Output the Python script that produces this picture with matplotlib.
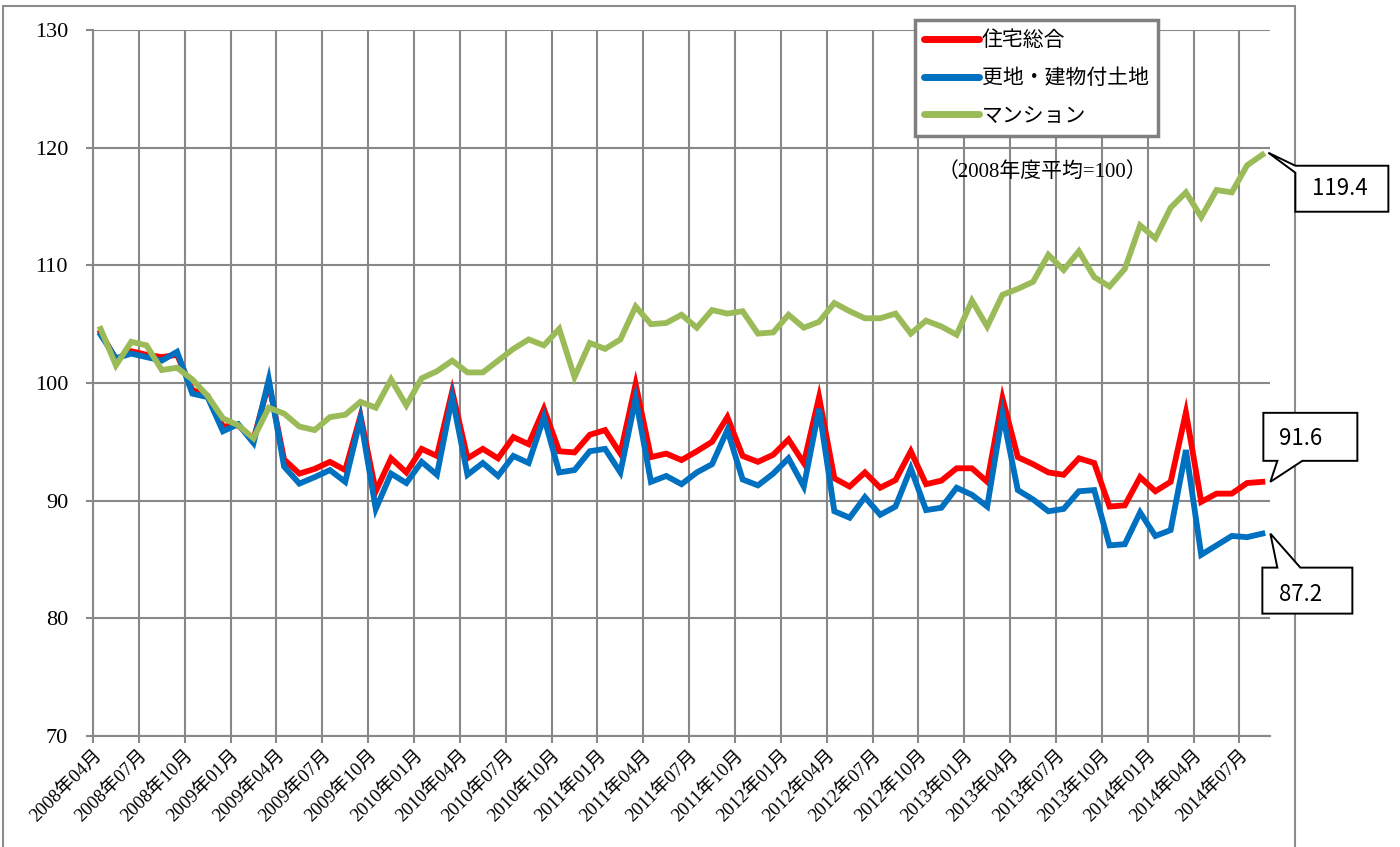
import numpy as np
import matplotlib
matplotlib.use("Agg")
import matplotlib.pyplot as plt
from matplotlib.patches import Polygon, Rectangle
from matplotlib.transforms import IdentityTransform

# ---------------- data ----------------
series_names = ["住宅総合", "更地・建物付土地", "マンション"]

housing_total = [104.3, 102.0, 102.7, 102.4, 102.2, 102.4, 99.4, 98.9, 96.3, 96.4,
                 95.2, 100.0, 93.5, 92.3, 92.7, 93.3, 92.6, 97.2, 90.8, 93.6,
                 92.4, 94.4, 93.8, 99.3, 93.6, 94.4, 93.6, 95.4, 94.8, 97.8,
                 94.2, 94.1, 95.6, 96.0, 94.0, 99.9, 93.7, 94.0, 93.45, 94.2,
                 95.0, 97.1, 93.8, 93.3, 93.9, 95.2, 93.2, 98.8, 91.9, 91.2,
                 92.4, 91.1, 91.75, 94.2, 91.4, 91.7, 92.75, 92.75, 91.6, 98.7,
                 93.7, 93.1, 92.4, 92.2, 93.6, 93.2, 89.5, 89.6, 92.0, 90.8,
                 91.6, 97.5, 89.9, 90.6, 90.6, 91.5, 91.6]

land_with_building = [104.1, 102.1, 102.5, 102.2, 101.9, 102.65, 99.1, 98.8, 95.9, 96.5,
                      94.9, 100.3, 92.9, 91.45, 92.0, 92.6, 91.6, 97.0, 89.3, 92.3,
                      91.5, 93.3, 92.2, 98.8, 92.2, 93.2, 92.1, 93.8, 93.2, 97.1,
                      92.4, 92.6, 94.2, 94.4, 92.4, 98.7, 91.6, 92.1, 91.4, 92.4,
                      93.1, 96.0, 91.8, 91.3, 92.3, 93.6, 91.2, 97.8, 89.1, 88.55,
                      90.3, 88.8, 89.5, 92.75, 89.2, 89.4, 91.1, 90.5, 89.5, 97.4,
                      90.9, 90.1, 89.1, 89.3, 90.8, 90.9, 86.2, 86.3, 89.0, 87.0,
                      87.5, 94.3, 85.4, 86.2, 87.0, 86.9, 87.2]

condominium = [104.6, 101.5, 103.5, 103.2, 101.1, 101.3, 100.3, 98.9, 97.0, 96.4,
               95.3, 97.9, 97.4, 96.3, 96.0, 97.1, 97.3, 98.4, 97.9, 100.3,
               98.1, 100.4, 101.0, 101.9, 100.9, 100.9, 101.9, 102.9, 103.7, 103.2,
               104.6, 100.5, 103.4, 102.9, 103.7, 106.5, 105.0, 105.1, 105.8, 104.7,
               106.2, 105.9, 106.1, 104.2, 104.3, 105.8, 104.7, 105.2, 106.8, 106.1,
               105.5, 105.5, 105.9, 104.2, 105.3, 104.8, 104.1, 107.0, 104.8, 107.5,
               108.0, 108.6, 110.9, 109.6, 111.2, 109.0, 108.2, 109.7, 113.4, 112.3,
               114.9, 116.2, 114.1, 116.4, 116.2, 118.5, 119.4]

tick_labels = ["2008年04月", "2008年07月", "2008年10月", "2009年01月", "2009年04月",
               "2009年07月", "2009年10月", "2010年01月", "2010年04月", "2010年07月",
               "2010年10月", "2011年01月", "2011年04月", "2011年07月", "2011年10月",
               "2012年01月", "2012年04月", "2012年07月", "2012年10月", "2013年01月",
               "2013年04月", "2013年07月", "2013年10月", "2014年01月", "2014年04月",
               "2014年07月"]

y_ticks = [70, 80, 90, 100, 110, 120, 130]
callout_labels = ["91.6", "87.2", "119.4"]
note_text = "（2008年度平均=100）"

colors = ["#FF0000", "#0070C0", "#9BBB59"]

# ---------------- figure ----------------
W, H = 1400, 847
fig = plt.figure(figsize=(W / 100, H / 100), dpi=100)
fig.patch.set_facecolor("white")

# outer chart frame
frame = Rectangle((3 / W, -0.1), (1295 - 3) / W, 1.1 - 6 / H, transform=fig.transFigure,
                  fill=False, edgecolor="#8c8c8c", lw=1.5, clip_on=False)
fig.add_artist(frame)

ax = fig.add_axes([93 / W, 1 - 736 / H, (1270 - 93) / W, (736 - 30) / H])

serif_fam = ["Liberation Serif", "Noto Sans CJK JP"]
gothic_fam = ["Noto Sans CJK JP", "DejaVu Sans"]
grid_c = "#888888"

x = np.arange(len(housing_total))
series = [housing_total, land_with_building, condominium]
for vals, name, c in zip(series, series_names, colors):
    ax.plot(x, vals, color=c, lw=4.2, label=name, solid_joinstyle="miter", zorder=3)

ax.set_xlim(-0.5, len(x) - 0.5)
ax.set_ylim(70, 130)
ax.set_yticks(y_ticks)
ax.set_yticklabels([str(v) for v in y_ticks], family=serif_fam, fontsize=16)
xt = np.arange(-0.5, len(x) - 0.5, 3)
ax.set_xticks(xt)
ax.set_xticklabels(tick_labels, family=serif_fam, fontsize=13.5, rotation=45,
                   ha="right", va="top", rotation_mode="anchor")

ax.grid(True, color=grid_c, lw=1.5)
ax.set_axisbelow(True)
for s in ["top", "right"]:
    ax.spines[s].set_visible(False)
for s in ["left", "bottom"]:
    ax.spines[s].set_color(grid_c)
    ax.spines[s].set_linewidth(1.5)
ax.tick_params(axis="both", direction="out", length=5, width=1.5, color=grid_c)
ax.tick_params(axis="y", pad=13)
ax.tick_params(axis="x", pad=3)

leg = ax.legend(loc="upper left", bbox_to_anchor=(915 / W, 1 - 20 / H),
                bbox_transform=fig.transFigure, borderaxespad=0,
                prop={"family": gothic_fam, "size": 15}, handlelength=2.6,
                handletextpad=0.15, labelspacing=0.75, borderpad=0.45,
                fancybox=False, framealpha=1, edgecolor="#7f7f7f")
leg.get_frame().set_linewidth(2.5)
for h in leg.get_lines():
    h.set_linewidth(5)
    h.set_solid_capstyle("round")

fig.text(938 / W, 1 - 172 / H, note_text, family=serif_fam, fontsize=15,
         ha="left", va="center")

# ---------------- callouts ----------------
fig.canvas.draw()
ident = IdentityTransform()


def to_px(i, v):
    px, py = ax.transData.transform((i, v))
    return px, H - py  # image-style coordinates (y down)


def add_callout(pts, text, tx, ty):
    disp = [(px, H - py) for px, py in pts]
    poly = Polygon(disp, closed=True, transform=ident, facecolor="white",
                   edgecolor="black", lw=1.4, zorder=10)
    fig.add_artist(poly)
    fig.text(tx / W, 1 - ty / H, text, family=gothic_fam, fontsize=16,
             ha="center", va="center", zorder=11)


last = len(x) - 1
# 119.4 (マンション)
px, py = to_px(last, condominium[-1])
tx, ty = px + 6, py - 2
add_callout([(tx, ty), (tx + 27, ty + 13), (tx + 120, ty + 13), (tx + 120, ty + 59),
             (tx + 27, ty + 59), (tx + 27, ty + 20)], callout_labels[2], tx + 72, ty + 36)
# 91.6 (住宅総合)
px, py = to_px(last, housing_total[-1])
tx, ty = px + 8, py
add_callout([(tx, ty), (tx + 7, ty - 21), (tx - 7, ty - 21), (tx - 7, ty - 69),
             (tx + 87, ty - 69), (tx + 87, ty - 21), (tx + 32, ty - 21)],
            callout_labels[0], tx + 30, ty - 43)
# 87.2 (更地・建物付土地)
px, py = to_px(last, land_with_building[-1])
tx, ty = px + 8, py
add_callout([(tx, ty), (tx + 30, ty + 34), (tx + 82, ty + 34), (tx + 82, ty + 80),
             (tx - 8, ty + 80), (tx - 8, ty + 34), (tx + 7, ty + 34)],
            callout_labels[1], tx + 30, ty + 61)

fig.savefig("out.png", dpi=100, facecolor="white")
